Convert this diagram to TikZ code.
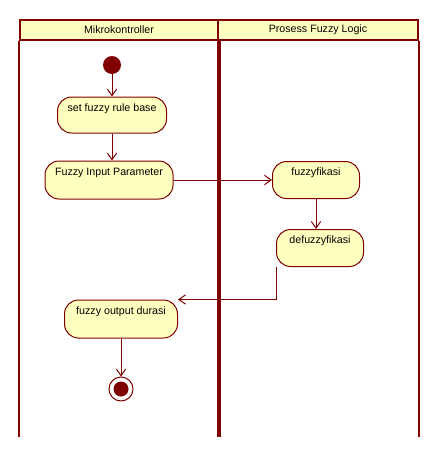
\documentclass[tikz,border=0pt]{standalone}
\usepackage{fontspec}
\setmainfont{Liberation Sans}
\usetikzlibrary{arrows.meta}
\definecolor{umlred}{HTML}{800000}
\definecolor{umlfill}{HTML}{FFFFC0}

\begin{document}
\begin{tikzpicture}[
    x=0.75pt, y=-0.75pt,
    font=\fontsize{8}{9.6}\selectfont,
    lanehead/.style={draw=umlred, line width=1.5pt, fill=umlfill, minimum height=15pt, inner sep=0pt},
    lane/.style={draw=umlred, line width=1.5pt},
    act/.style={draw=umlred, line width=0.75pt, fill=umlfill, rounded corners=10.5pt, align=center, inner xsep=2pt, inner ysep=4pt, text height=6.5pt},
    startnode/.style={circle, fill=umlred, minimum size=13.5pt, inner sep=0pt},
    endnode/.style={circle, draw=umlred, line width=0.75pt, fill=white, minimum size=18pt, inner sep=0pt},
    flow/.style={draw=umlred, line width=0.75pt, -{Straight Barb[length=5pt, width=7pt]}}
  ]
    \useasboundingbox (0,0) rectangle (440,457);
    \coordinate (bottom) at (0,437);

    % swimlanes
    \node[lanehead, minimum width=148.5pt] (laneM) at (119,30) {Mikrokontroller};
    \node[lanehead, minimum width=150pt] (laneP) at (318,30) {Prosess Fuzzy Logic};
    \draw[lane] (laneM.south west) -- (laneM.south west |- bottom);
    \draw[lane, line width=3pt] (laneM.south east) -- (laneM.south east |- bottom);
    \draw[lane] (laneP.south east) -- (laneP.south east |- bottom);

    % activities
    \node[startnode] (start) at (112,65) {};
    \node[act, minimum width=81.75pt, text depth=12.5pt] (rulebase) at (112,115) {set fuzzy rule base};
    \node[act, minimum width=96pt, text depth=14pt] (input) at (109,180) {Fuzzy Input Parameter};
    \node[act, minimum width=65.25pt, text depth=13.25pt] (fuzz) at (316,180) {fuzzyfikasi};
    \node[act, minimum width=65.25pt, text depth=13.25pt] (defuzz) at (320,248) {defuzzyfikasi};
    \node[act, minimum width=84.75pt, text depth=14pt] (output) at (121,319) {fuzzy output durasi};
    \node[endnode] (stop) at (121,389) {};
    \node[startnode, minimum size=11.25pt] (stopdot) at (stop) {};

    \draw[flow] (start) -- (rulebase);
    \draw[flow] (rulebase.south) -- (rulebase.south |- input.north);
    \draw[flow] (input) -- (fuzz);
    \draw[flow] (fuzz.south) -- (fuzz.south |- defuzz.north);
    \draw[flow] (defuzz.south west) |- (output.north east);
    \draw[flow] (output) -- (stop);
\end{tikzpicture}
\end{document}
